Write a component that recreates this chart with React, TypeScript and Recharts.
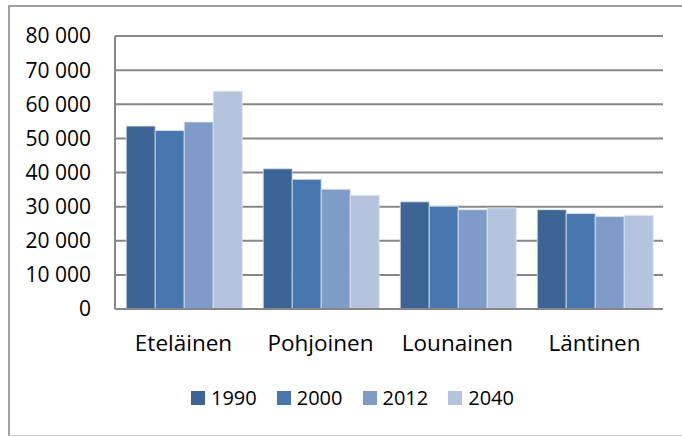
import { BarChart, Bar, XAxis, YAxis, CartesianGrid } from 'recharts'

const alueet = ['Eteläinen', 'Pohjoinen', 'Lounainen', 'Läntinen']
const v1990 = [53600, 41100, 31400, 29100]
const v2000 = [52300, 38000, 30100, 28000]
const v2012 = [54800, 35100, 29100, 27100]
const v2040 = [63800, 33300, 29600, 27400]
const vuodet = ['1990', '2000', '2012', '2040']
const yTicks = [0, 10000, 20000, 30000, 40000, 50000, 60000, 70000, 80000]

const colors = ['#3C6596', '#4877B0', '#7F9CC8', '#B4C4DF']

const data = alueet.map((nimi, i) => ({
  nimi,
  '1990': v1990[i],
  '2000': v2000[i],
  '2012': v2012[i],
  '2040': v2040[i],
}))

const fmt = (v: number) => (v === 0 ? '0' : `${Math.floor(v / 1000)} 000`)

const font = '"Open Sans", sans-serif'

export default function App() {
  return (
    <div style={{ position: 'absolute', left: 0, top: 0, width: 682, height: 436, background: '#fff', overflow: 'hidden', fontFamily: font }}>
      <div
        style={{
          position: 'absolute', left: 8, top: 5, width: 690, height: 428,
          borderLeft: '2px solid #a0a0a0', borderTop: '2px solid #a0a0a0',
          borderBottom: '1px solid #d0d0d0',
        }}
      />
      <div style={{ position: 'absolute', left: 0, top: 0 }}>
        <BarChart
          width={682}
          height={436}
          data={data}
          margin={{ top: 36, right: 19, left: 0, bottom: 67 }}
          barCategoryGap="8.2%"
          barGap={0}
        >
          <CartesianGrid vertical={false} stroke="#878787" strokeWidth={2} />
          <XAxis
            dataKey="nimi"
            height={60}
            tickSize={0}
            tickMargin={26}
            axisLine={{ stroke: '#878787', strokeWidth: 2 }}
            tick={{ fontSize: 22.5, fill: '#000', fontFamily: font }}
          />
          <YAxis
            width={115}
            domain={[0, 80000]}
            ticks={yTicks}
            interval={0}
            tickFormatter={fmt}
            tickSize={0}
            tickMargin={24}
            axisLine={{ stroke: '#878787', strokeWidth: 2 }}
            tick={{ fontSize: 21, fill: '#000', fontFamily: font }}
          />
          {vuodet.map((y, i) => (
            <Bar
              key={y}
              dataKey={y}
              fill={colors[i]}
              stroke="#dde5f0"
              strokeWidth={0.8}
              isAnimationActive={false}
            />
          ))}
        </BarChart>
      </div>
      <div style={{ position: 'absolute', left: 191, top: 383, display: 'flex', alignItems: 'center', fontSize: 20, lineHeight: '30px', color: '#000' }}>
        {vuodet.map((y, i) => (
          <div key={y} style={{ display: 'flex', alignItems: 'center', marginRight: 20 }}>
            <span style={{ width: 14, height: 14, background: colors[i], display: 'inline-block', marginRight: 6 }} />
            <span>{y}</span>
          </div>
        ))}
      </div>
    </div>
  )
}
